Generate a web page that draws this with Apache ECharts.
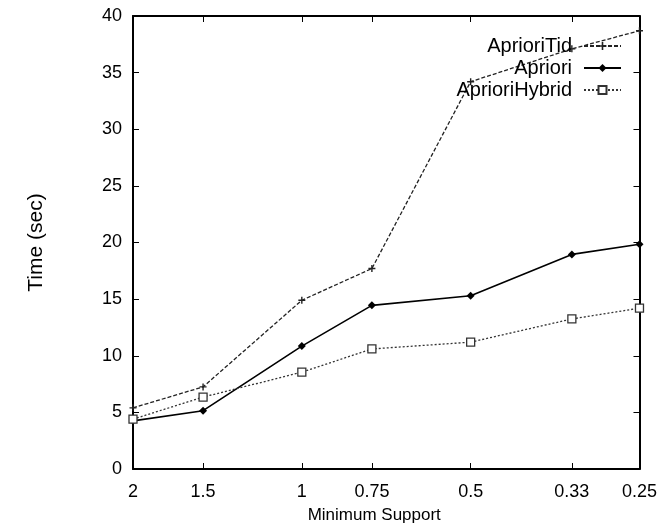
<!DOCTYPE html>
<html>
<head>
<meta charset="utf-8">
<script src="https://cdn.jsdelivr.net/npm/echarts@6/dist/echarts.min.js"></script>
<style>
  html, body { margin: 0; padding: 0; background: #fff; }
  #chart { width: 660px; height: 529px; }
</style>
</head>
<body>
<div id="chart"></div>
<script>
// minimum support (x, log scale, reversed)
var supports = [2, 1.5, 1, 0.75, 0.5, 0.33, 0.25];
var yTicks = [0, 5, 10, 15, 20, 25, 30, 35, 40];

var aprioriTid = [5.4, 7.25, 14.9, 17.7, 34.2, 37.1, 38.7];
var apriori = [4.25, 5.15, 10.85, 14.45, 15.3, 18.95, 19.85];
var aprioriHybrid = [4.4, 6.35, 8.55, 10.6, 11.2, 13.25, 14.2];

var plus = "path://M4,0h2v4h4v2h-4v4h-2v-4h-4v-2h4z";
var font = "Liberation Sans, Arial, sans-serif";

function pairs(vals) {
  return supports.map(function(s, i) { return [s, vals[i]]; });
}

var chart = echarts.init(document.getElementById("chart"));

function xAxisCfg(show) {
  return {
    type: "log",
    logBase: 2,
    min: 0.25,
    max: 2,
    inverse: true,
    position: show ? "bottom" : "top",
    name: show ? "Minimum Support" : "",
    nameLocation: "middle",
    nameGap: 38,
    nameTextStyle: { color: "#000", fontSize: 17, fontFamily: font, padding: [0, 24, 0, 0] },
    axisLine: { show: true, onZero: false, lineStyle: { color: "#000", width: 2 } },
    axisTick: { show: true, inside: true, length: 6, customValues: supports, lineStyle: { color: "#000" } },
    axisLabel: {
      show: show,
      customValues: supports,
      color: "#000",
      fontSize: 18,
      fontFamily: font,
      margin: 14,
      formatter: function(v) { return String(+v.toFixed(2)); },
    },
    splitLine: { show: false },
    minorTick: { show: false },
  };
}

function yAxisCfg(show) {
  return {
    type: "value",
    min: 0,
    max: 40,
    interval: 5,
    position: show ? "left" : "right",
    name: show ? "Time (sec)" : "",
    nameLocation: "middle",
    nameGap: 86,
    nameTextStyle: { color: "#000", fontSize: 21, fontFamily: font },
    axisLine: { show: true, onZero: false, lineStyle: { color: "#000", width: 2 } },
    axisTick: { show: true, inside: true, length: 6, lineStyle: { color: "#000" } },
    axisLabel: { show: show, color: "#000", fontSize: 18, fontFamily: font, margin: 11 },
    splitLine: { show: false },
  };
}

var option = {
  animation: false,
  backgroundColor: "#fff",
  grid: { left: 133, right: 20, top: 16, bottom: 60 },
  xAxis: [xAxisCfg(true), xAxisCfg(false)],
  yAxis: [yAxisCfg(true), yAxisCfg(false)],
  legend: {
    orient: "vertical",
    right: 33,
    top: 31,
    align: "right",
    itemGap: 2,
    itemWidth: 37,
    itemHeight: 10,
    textStyle: { color: "#000", fontSize: 20, fontFamily: font, padding: [0, 7, 0, 0] },
    data: ["AprioriTid", "Apriori", "AprioriHybrid"],
  },
  series: [
    {
      name: "AprioriTid",
      type: "line",
      data: pairs(aprioriTid),
      symbol: plus,
      symbolSize: 7,
      itemStyle: { color: "#222" },
      lineStyle: { color: "#222", width: 1.3, type: [4, 2] },
    },
    {
      name: "Apriori",
      type: "line",
      data: pairs(apriori),
      symbol: "diamond",
      symbolSize: 8,
      itemStyle: { color: "#000" },
      lineStyle: { color: "#000", width: 1.6 },
    },
    {
      name: "AprioriHybrid",
      type: "line",
      data: pairs(aprioriHybrid),
      symbol: "rect",
      symbolSize: 8,
      itemStyle: { color: "#fff", borderColor: "#333", borderWidth: 1.3 },
      lineStyle: { color: "#333", width: 1.3, type: [2, 2] },
    },
  ],
};

chart.setOption(option);
</script>
</body>
</html>
